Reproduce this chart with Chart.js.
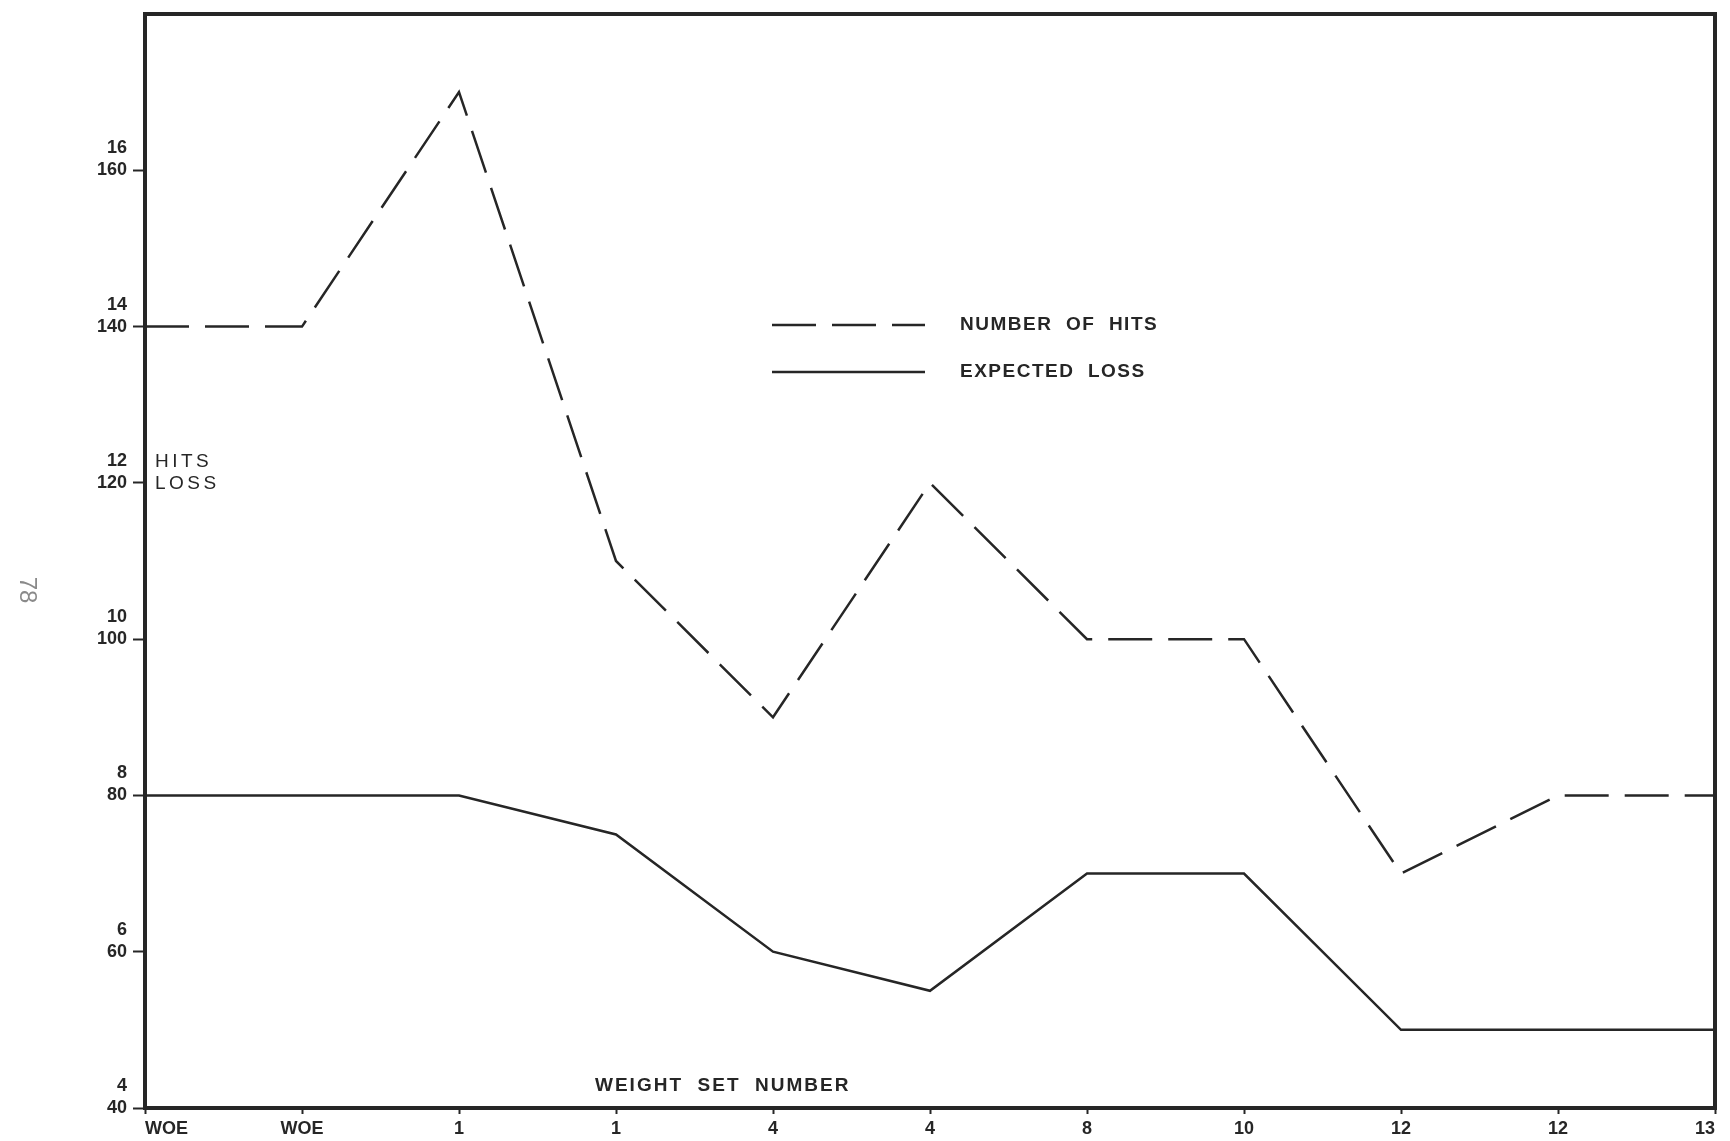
<!DOCTYPE html>
<html>
<head>
<meta charset="utf-8">
<script src="https://cdn.jsdelivr.net/npm/chart.js@4.4.1/dist/chart.umd.min.js"></script>
<style>
  html, body { margin: 0; padding: 0; background: #fff; }
  #wrap { position: relative; width: 1730px; height: 1141px; }
  canvas { display: block; }
</style>
</head>
<body>
<div id="wrap"><canvas id="c" width="1730" height="1141"></canvas></div>
<script>
// ---- data ----
const categories = ['WOE', 'WOE', '1', '1', '4', '4', '8', '10', '12', '12', '13'];
const hits = [140, 140, 170, 110, 90, 120, 100, 100, 70, 80, 80];
const expectedLoss = [8, 8, 8, 7.5, 6, 5.5, 7, 7, 5, 5, 5];
const hitsTicks = [40, 60, 80, 100, 120, 140, 160];
const lossTicks = [4, 6, 8, 10, 12, 14, 16];
const seriesNames = ['NUMBER OF HITS', 'EXPECTED LOSS'];
const axisTitle = 'WEIGHT SET NUMBER';
const yTitle = ['HITS', 'LOSS'];
const pageNumber = '78';

const INK = '#262626';
const FONT = '"Liberation Sans", Arial, sans-serif';

const framePlugin = {
  id: 'frame',
  afterDraw(chart) {
    const { ctx, chartArea: a } = chart;
    ctx.save();
    ctx.strokeStyle = INK;
    ctx.lineWidth = 4;
    ctx.strokeRect(a.left, a.top, a.right - a.left, a.bottom - a.top);
    ctx.restore();
  }
};

const annotationsPlugin = {
  id: 'annotations',
  afterDraw(chart) {
    const { ctx } = chart;
    const ds = chart.data.datasets;
    ctx.save();
    ctx.fillStyle = INK;
    ctx.textBaseline = 'middle';
    ctx.textAlign = 'left';
    // legend
    const rows = [325, 372];
    ds.forEach((d, i) => {
      ctx.save();
      ctx.strokeStyle = d.borderColor;
      ctx.lineWidth = 2.5;
      ctx.setLineDash(d.borderDash || []);
      ctx.beginPath();
      ctx.moveTo(772, rows[i]);
      ctx.lineTo(925, rows[i]);
      ctx.stroke();
      ctx.restore();
      ctx.font = 'bold 19px ' + FONT;
      ctx.letterSpacing = '1.5px';
      ctx.fillText(d.label.replace(/ /g, '  '), 960, rows[i]);
    });
    // y axis title inside plot
    ctx.font = '500 19px ' + FONT;
    ctx.letterSpacing = '3.5px';
    ctx.fillText(yTitle[0], 155, 462);
    ctx.fillText(yTitle[1], 155, 484);
    // x axis title inside plot
    ctx.font = 'bold 19px ' + FONT;
    ctx.letterSpacing = '2px';
    ctx.fillText(axisTitle.replace(/ /g, '  '), 595, 1086);
    // page number, rotated
    ctx.letterSpacing = '0px';
    ctx.translate(27, 590);
    ctx.rotate(Math.PI / 2);
    ctx.font = '24px ' + FONT;
    ctx.fillStyle = '#8a8a8a';
    ctx.textAlign = 'center';
    ctx.fillText(pageNumber, 0, 0);
    ctx.restore();
  }
};

new Chart(document.getElementById('c'), {
  type: 'line',
  data: {
    labels: categories,
    datasets: [
      {
        label: seriesNames[0],
        data: hits,
        yAxisID: 'y',
        borderColor: INK,
        borderWidth: 2.5,
        borderDash: [44, 16],
        pointRadius: 0,
        tension: 0,
        fill: false
      },
      {
        label: seriesNames[1],
        data: expectedLoss,
        yAxisID: 'yLoss',
        borderColor: INK,
        borderWidth: 2.5,
        pointRadius: 0,
        tension: 0,
        fill: false
      }
    ]
  },
  options: {
    responsive: false,
    animation: false,
    layout: { padding: { left: 0, top: 14, right: 15, bottom: 0 } },
    plugins: { legend: { display: false }, tooltip: { enabled: false } },
    scales: {
      x: {
        type: 'category',
        offset: false,
        afterFit(s) { s.height = 33; s.paddingLeft = 0; s.paddingRight = 0; },
        grid: {
          drawOnChartArea: false,
          drawTicks: true,
          tickLength: 6,
          tickWidth: 2,
          tickColor: INK
        },
        border: { display: true, color: INK, width: 4 },
        ticks: {
          align: 'inner',
          autoSkip: false,
          maxRotation: 0,
          padding: 4,
          color: INK,
          font: { family: FONT, size: 18, weight: 'bold' }
        }
      },
      y: {
        type: 'linear',
        min: 40,
        max: 180,
        afterFit(s) { s.width = 145; s.paddingTop = 0; s.paddingBottom = 0; },
        afterBuildTicks(s) {
          s.ticks = hitsTicks.map(v => ({ value: v }));
        },
        grid: {
          drawOnChartArea: false,
          drawTicks: true,
          tickLength: 12,
          tickWidth: 2,
          tickColor: INK
        },
        border: { display: true, color: INK, width: 4 },
        ticks: {
          padding: 6,
          labelOffset: -11,
          color: INK,
          font: { family: FONT, size: 18, weight: 'bold', lineHeight: 1.22 },
          callback(v) {
            const i = hitsTicks.indexOf(v);
            return i < 0 ? '' : [String(lossTicks[i]), String(v)];
          }
        }
      },
      yLoss: {
        type: 'linear',
        display: false,
        min: 4,
        max: 18
      }
    }
  },
  plugins: [framePlugin, annotationsPlugin]
});
</script>
</body>
</html>
